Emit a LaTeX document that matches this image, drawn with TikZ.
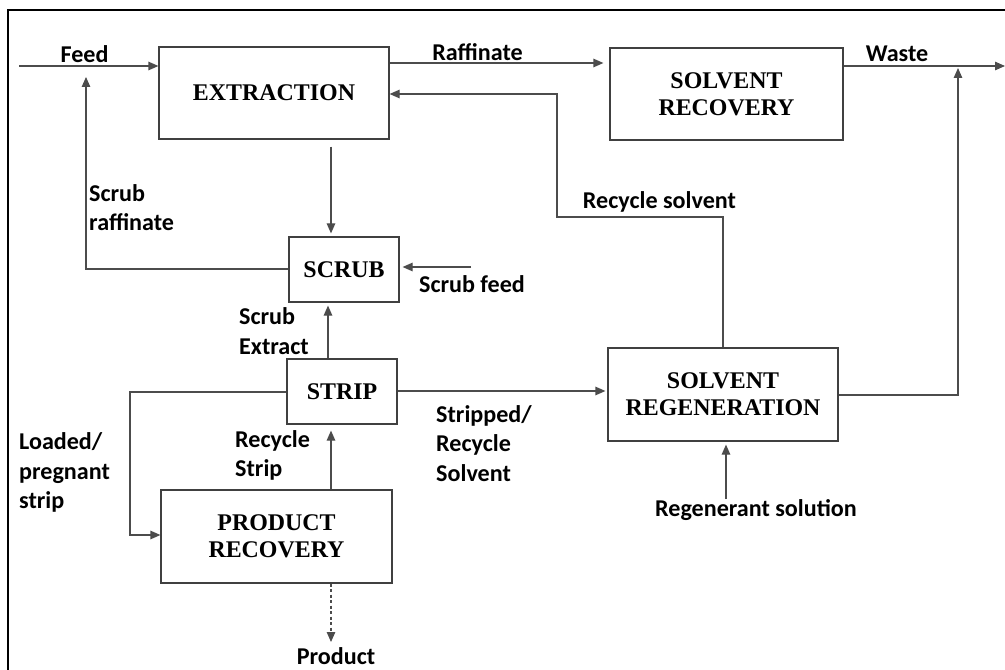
\documentclass[tikz,border=0pt]{standalone}
\usepackage{fontspec}
\setmainfont{Liberation Serif}
\newfontfamily\labelfont{Carlito}
\usetikzlibrary{arrows.meta,calc}

\begin{document}
\begin{tikzpicture}[x=1bp,y=-1bp,
  unit/.style={draw=black!75, line width=1.2bp, inner sep=0pt, align=center,
    font=\fontsize{24}{27}\selectfont\bfseries},
  flow/.style={draw=black!70, line width=1.2bp},
  arr/.style={flow, -{Triangle[length=10bp,width=8.5bp]}},
  lbl/.style={inner sep=0pt, align=left, font=\labelfont\fontsize{24.2}{29.5}\selectfont\bfseries}]

\useasboundingbox (0,0) rectangle (1005,670);
% outer frame (left and top edges)
\draw[line width=1.6bp] (8,670) -- (8,10) -- (1005,10);

% process units
\node[unit, minimum width=230bp, minimum height=92bp] (ext)   at (274,93)    {EXTRACTION};
\node[unit, minimum width=233bp, minimum height=92bp] (srec)  at (726.5,94)  {SOLVENT\\RECOVERY};
\node[unit, minimum width=110bp, minimum height=65bp] (scrub) at (344,269.5) {SCRUB};
\node[unit, minimum width=110bp, minimum height=65bp] (strip) at (342,391.5) {STRIP};
\node[unit, minimum width=231bp, minimum height=93bp] (prec)  at (276.5,536.5) {PRODUCT\\RECOVERY};
\node[unit, minimum width=230bp, minimum height=93bp] (sreg)  at (723,394.5) {SOLVENT\\REGENERATION};

% free ends and bends
\coordinate (feedin) at (19,66);
\coordinate (wasteout) at (1005,66);
\coordinate (sfeed) at (471,267);
\coordinate (regin) at (726,499);
\coordinate (prodout) at (331,642);
\coordinate (rsA) at (723,217);
\coordinate (rsB) at (557,217);
\coordinate (rsC) at (557,94);
\coordinate (srA) at (86,269);
\coordinate (srB) at (86,77);
\coordinate (lpA) at (130,392);
\coordinate (lpB) at (130,535);
\coordinate (rgA) at (958,395);
\coordinate (rgB) at (958,68);

% main flows
\draw[arr] (feedin) -- (feedin -| ext.west);
\draw[arr, shorten >=6bp] (ext.east |- 0,63) -- (srec.west |- 0,63);
\draw[arr] (srec.east |- wasteout) -- (wasteout);
\draw[arr] (sreg.east |- rgA) -- (rgA) -- (rgB);
\draw[arr] (sreg.north -| rsA) -- (rsA) -- (rsB) -- (rsC) -- (ext.east |- rsC);
\draw[arr, shorten <=7bp, shorten >=3bp] (ext.south -| 331,0) -- (scrub.north -| 331,0);
\draw[arr] (scrub.west |- srA) -- (srA) -- (srB);
\draw[arr, shorten >=3bp] (sfeed) -- (sfeed -| scrub.east);
\draw[arr, shorten >=3bp] (strip.north -| 328,0) -- (scrub.south -| 328,0);
\draw[arr, shorten >=2bp] (strip.east |- 0,391) -- (sreg.west |- 0,391);
\draw[arr] (strip.west |- lpA) -- (lpA) -- (lpB) -- (prec.west |- lpB);
\draw[arr, shorten >=6bp] (prec.north -| 331,0) -- (strip.south -| 331,0);
\draw[arr, dash pattern=on 3bp off 2.5bp] (prec.south -| prodout) -- (prodout);
\draw[arr, shorten >=3bp] (regin) -- (regin |- sreg.south);

% stream labels
\node[lbl] (lfeed) at (84.5,54) {Feed};
\node[lbl] (lraf)  at (477.5,52) {Raffinate};
\node[lbl] (lwaste) at (897,54) {Waste};
\node[lbl] (lrecs) at (659.5,202) {Recycle solvent};
\node[lbl, anchor=west] (lscrr) at (89,207.5) {Scrub\\raffinate};
\node[lbl] (lsfeed) at (472,284) {Scrub feed};
\node[lbl, anchor=west] (lsext) at (239,331) {Scrub\\Extract};
\node[lbl, anchor=west] (lload) at (19,472.5) {Loaded/\\pregnant\\strip};
\node[lbl, anchor=west] (lrstr) at (235,455.5) {Recycle\\Strip};
\node[lbl, anchor=west] (lstrp) at (436,443.5) {Stripped/\\Recycle\\Solvent};
\node[lbl] (lregen) at (756,510) {Regenerant solution};
\node[lbl] (lprod) at (336,656) {Product};
\end{tikzpicture}
\end{document}
